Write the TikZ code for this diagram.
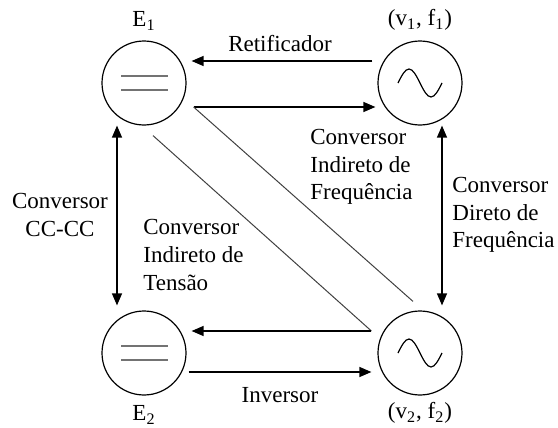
\documentclass[tikz,border=0pt]{standalone}
\usepackage{fontspec}
\setmainfont{Liberation Serif}
\usepackage{tikz}
\usetikzlibrary{arrows.meta}

\begin{document}
\begin{tikzpicture}[x=0.5pt,y=-0.5pt,>={Triangle[length=6pt,width=5pt]},
    font=\fontsize{11.5}{13.8}\selectfont,
    source/.style={draw,circle,line width=0.6pt,minimum size=42pt,inner sep=0pt},
    conv/.style={line width=0.65pt},
    diag/.style={line width=0.5pt,black!75},
    eqline/.style={line width=0.8pt,black!55},
    txt/.style={inner sep=0pt}]
    \useasboundingbox (0,0) rectangle (558,428);
    % Sources
    \node[source] (E1) at (144,83) {};
    \node[source] (v1) at (420,83) {};
    \node[source] (E2) at (144,353) {};
    \node[source] (v2) at (420,353) {};
    \node[txt] (lE1) at (144,21) {E\textsubscript{1}};
    \node[txt] (lv1) at (420,20) {(v\textsubscript{1}, f\textsubscript{1})};
    \node[txt] (lE2) at (144,415) {E\textsubscript{2}};
    \node[txt] (lv2) at (420,413) {(v\textsubscript{2}, f\textsubscript{2})};
    % DC and AC symbols
    \foreach \s in {E1,E2} {
        \draw[eqline] ([shift={(-23,-7)}]\s.center) -- ++(47,0);
        \draw[eqline] ([shift={(-23,7)}]\s.center) -- ++(47,0);
    }
    \foreach \s in {v1,v2} {
        \draw[line width=0.6pt] ([shift={(-22,0)}]\s.center)
            sin ++(11,-14) cos ++(11,14) sin ++(11,14) cos ++(11,-14);
    }
    % Connector ends
    \coordinate (ret-a) at ([shift={(-5,-22)}]v1.west);
    \coordinate (ret-b) at ([shift={(5,-22)}]E1.east);
    \coordinate (ifr-a) at ([shift={(7,24)}]E1.east);
    \coordinate (ifr-b) at ([shift={(-2,24)}]v1.west);
    \coordinate (ifr-c) at ([shift={(-7,-9)}]v2.north);
    \coordinate (ite-a) at ([shift={(9,10)}]E1.south);
    \coordinate (ite-b) at ([shift={(-6,-22)}]v2.west);
    \coordinate (ite-c) at ([shift={(5,-22)}]E2.east);
    \coordinate (inv-a) at ([shift={(2,19)}]E2.east);
    \coordinate (inv-b) at ([shift={(-6,19)}]v2.west);
    \coordinate (cc-a) at ([shift={(-27,0)}]E1.south);
    \coordinate (cc-b) at ([shift={(-27,-5)}]E2.north);
    \coordinate (dfr-a) at ([shift={(22,0)}]v1.south);
    \coordinate (dfr-b) at ([shift={(22,-5)}]v2.north);
    % Converters
    \draw[conv,->] (ret-a) -- (ret-b);
    \draw[conv,->] (ifr-a) -- (ifr-b);
    \draw[diag] (ifr-c) -- (ifr-a);
    \draw[diag] (ite-a) -- (ite-b);
    \draw[conv,->] (ite-b) -- (ite-c);
    \draw[conv,->] (inv-a) -- (inv-b);
    \draw[conv,<->] (cc-a) -- (cc-b);
    \draw[conv,<->] (dfr-a) -- (dfr-b);
    % Labels
    \node[txt] (ret) at (280,44) {Retificador};
    \node[txt] (inv) at (280,395) {Inversor};
    \node[txt,align=center] (cc) at (60,215) {Conversor\\CC-CC};
    \node[txt,align=left,anchor=west] (ite) at (143,255) {Conversor\\Indireto de\\Tensão};
    \node[txt,align=left,anchor=west] (ifr) at (310,167) {Conversor\\Indireto de\\Frequência};
    \node[txt,align=left,anchor=west] (dfr) at (452,215) {Conversor\\Direto de\\Frequência};
\end{tikzpicture}
\end{document}
